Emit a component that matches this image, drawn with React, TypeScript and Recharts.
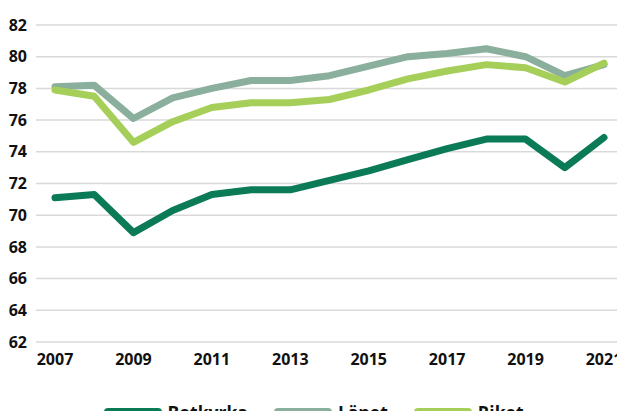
import { LineChart, Line, XAxis, YAxis, CartesianGrid, Legend } from "recharts"

const years = ["2007", "2008", "2009", "2010", "2011", "2012", "2013", "2014", "2015", "2016", "2017", "2018", "2019", "2020", "2021"]
const botkyrka = [71.1, 71.3, 68.9, 70.3, 71.3, 71.6, 71.6, 72.2, 72.8, 73.5, 74.2, 74.8, 74.8, 73.0, 74.9]
const lanet = [78.1, 78.2, 76.1, 77.4, 78.0, 78.5, 78.5, 78.8, 79.4, 80.0, 80.2, 80.5, 80.0, 78.8, 79.5]
const riket = [77.9, 77.5, 74.6, 75.9, 76.8, 77.1, 77.1, 77.3, 77.9, 78.6, 79.1, 79.5, 79.3, 78.4, 79.6]
const yTicks = [62, 64, 66, 68, 70, 72, 74, 76, 78, 80, 82]
const xTicks = ["2007", "2009", "2011", "2013", "2015", "2017", "2019", "2021"]

const SERIES = [
  { key: "Botkyrka", color: "#0b7a57" },
  { key: "Länet", color: "#8aaf9c" },
  { key: "Riket", color: "#a5cf59" },
]

const FONT = "'Open Sans', sans-serif"

function LegendRow() {
  return (
    <div style={{ display: "flex", justifyContent: "center", gap: 26, paddingTop: 20, paddingLeft: 2, fontFamily: FONT }}>
      {SERIES.map((s) => (
        <div key={s.key} style={{ display: "flex", alignItems: "center", gap: 6 }}>
          <span style={{ display: "inline-block", width: 58, height: 8, borderRadius: 4, background: s.color }} />
          <span style={{ fontWeight: 700, fontSize: 17.5, lineHeight: "20px", color: "#111" }}>{s.key}</span>
        </div>
      ))}
    </div>
  )
}

export default function App() {
  const data = years.map((y, i) => ({ year: y, Botkyrka: botkyrka[i], Länet: lanet[i], Riket: riket[i] }))
  const tick = { fill: "#111", fontSize: 16, fontWeight: 700, fontFamily: FONT }
  return (
    <div style={{ margin: -8, width: 625, height: 419, overflow: "hidden", background: "#fff" }}>
      <LineChart width={625} height={419} data={data} margin={{ top: 25, right: 0, bottom: 0, left: 0 }}>
        <CartesianGrid vertical={false} stroke="#d9d9d9" strokeWidth={1.5} />
        <XAxis
          dataKey="year"
          ticks={xTicks}
          interval={0}
          axisLine={false}
          tickLine={false}
          tickSize={0}
          tickMargin={12}
          height={40}
          padding={{ left: 19, right: 21 }}
          tick={tick}
        />
        <YAxis
          domain={[62, 82]}
          ticks={yTicks}
          width={36}
          axisLine={false}
          tickLine={false}
          tickSize={0}
          tickMargin={9}
          tick={tick}
        />
        <Legend verticalAlign="bottom" height={37} content={() => <LegendRow />} />
        {SERIES.map((s) => (
          <Line
            key={s.key}
            dataKey={s.key}
            stroke={s.color}
            strokeWidth={7}
            strokeLinecap="round"
            strokeLinejoin="round"
            dot={false}
            isAnimationActive={false}
          />
        ))}
      </LineChart>
    </div>
  )
}
